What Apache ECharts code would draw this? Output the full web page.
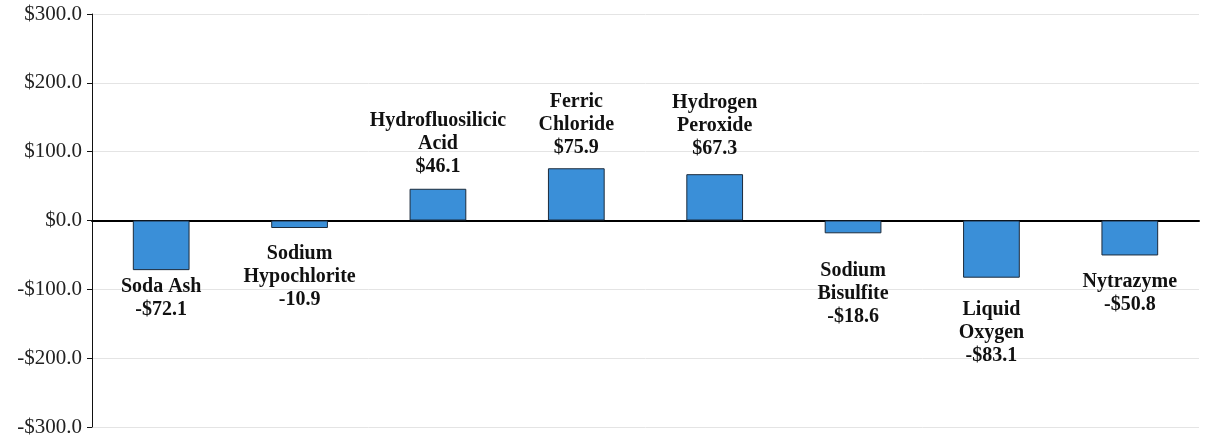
<!DOCTYPE html>
<html>
<head>
<meta charset="utf-8">
<script src="https://cdn.jsdelivr.net/npm/echarts@6/dist/echarts.min.js"></script>
<style>
  html, body { margin: 0; padding: 0; background: #fff; }
  #chart { width: 1225px; height: 440px; }
</style>
</head>
<body>
<div id="chart"></div>
<script>
// chemical cost changes
const categories = [
  "Soda Ash",
  "Sodium\nHypochlorite",
  "Hydrofluosilicic\nAcid",
  "Ferric\nChloride",
  "Hydrogen\nPeroxide",
  "Sodium\nBisulfite",
  "Liquid\nOxygen",
  "Nytrazyme",
];
const values = [-72.1, -10.9, 46.1, 75.9, 67.3, -18.6, -83.1, -50.8];
const valueLabels = ["-$72.1", "-10.9", "$46.1", "$75.9", "$67.3", "-$18.6", "-$83.1", "-$50.8"];
const yTicks = [-300, -200, -100, 0, 100, 200, 300];

// gap between bar end and its label (px)
const labelGap = [5, 14, 10, 9, 14, 26, 21, 15];

const serif = "'Liberation Serif', 'Times New Roman', serif";

const chart = echarts.init(document.getElementById("chart"));

const data = values.map((v, i) => ({
  value: v,
  label: {
    position: v < 0 ? "bottom" : "top",
    distance: labelGap[i],
    formatter: () => categories[i] + "\n" + valueLabels[i],
  },
}));

chart.setOption({
  animation: false,
  grid: { left: 92, right: 26, top: 14, bottom: 13 },
  xAxis: {
    type: "category",
    data: categories,
    axisLine: { onZero: true, lineStyle: { color: "#000", width: 2 } },
    axisTick: { show: false },
    axisLabel: { show: false },
    splitLine: { show: false },
  },
  yAxis: {
    type: "value",
    min: yTicks[0],
    max: yTicks[yTicks.length - 1],
    interval: 100,
    axisLine: { show: true, lineStyle: { color: "#111", width: 1 } },
    axisTick: { show: true, length: 5, lineStyle: { color: "#111" } },
    axisLabel: {
      margin: 10,
      color: "#222",
      fontFamily: serif,
      fontSize: 21,
      formatter: (v) => (v < 0 ? "-$" : "$") + Math.abs(v).toFixed(1),
    },
    splitLine: { lineStyle: { color: "#e4e4e4", width: 1 } },
  },
  series: [
    {
      type: "bar",
      barWidth: "41%",
      data,
      itemStyle: { color: "#3a8fd8", borderColor: "#1c2b3c", borderWidth: 1 },
      label: {
        show: true,
        color: "#111",
        fontFamily: serif,
        fontWeight: "bold",
        fontSize: 20,
        lineHeight: 23,
        align: "center",
      },
    },
  ],
});
</script>
</body>
</html>
